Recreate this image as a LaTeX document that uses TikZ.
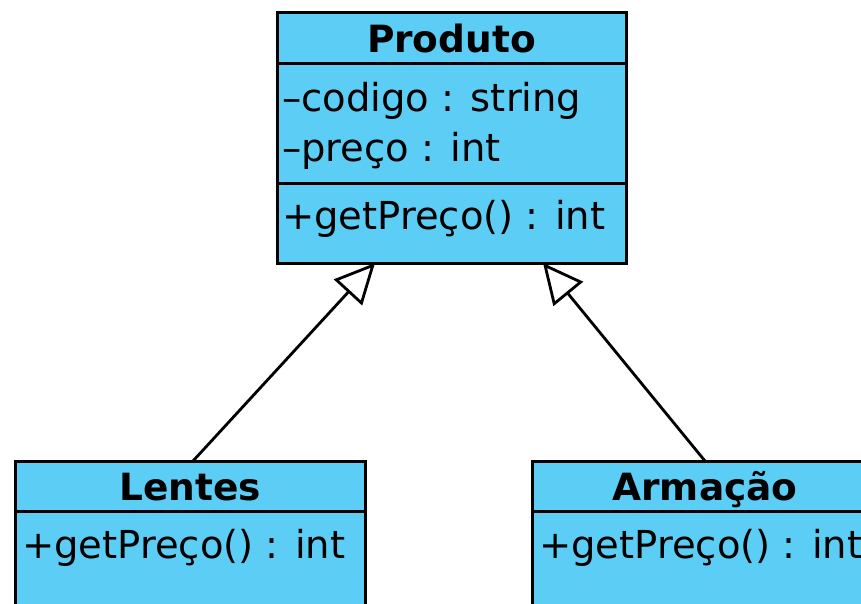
\documentclass[tikz,border=0pt]{standalone}
\usepackage{fontspec}
\setmainfont{DejaVu Sans}
\usetikzlibrary{arrows.meta}
\definecolor{classfill}{RGB}{92,206,246}
\tikzset{
  classbox/.style={draw=black, fill=classfill, line width=3pt},
  divider/.style={draw=black, line width=3pt},
  member/.style={anchor=base west, inner sep=0pt, font=\fontsize{38.5}{46}\selectfont},
  classname/.style={anchor=base, inner sep=0pt, font=\fontsize{37.5}{46}\selectfont\bfseries},
  inherit/.style={draw=black, line width=2.8pt,
    -{Triangle[open, length=40pt, width=38pt, line width=2.8pt, fill=white]}}
}
\begin{document}
\begin{tikzpicture}[x=1pt, y=-1pt]
  \useasboundingbox (0,0) rectangle (861,603);
  \clip (0,0) rectangle (861,603);

  % Produto
  \path[classbox] (277,12) rectangle (626,263);
  \draw[divider] (277,63) -- (626,63);
  \draw[divider] (277,183) -- (626,183);
  \node[classname] (produto) at (451.5,52) {Produto};
  \node[member] (pcod) at (282,111) {–codigo : string};
  \node[member] (ppre) at (282,161) {–preço : int};
  \node[member] (pget) at (282,229) {+getPreço() : int};
  \coordinate (ptipL) at (375,263);
  \coordinate (ptipR) at (543,263);

  % Lentes
  \path[classbox] (15,461) rectangle (365,640);
  \draw[divider] (15,511) -- (365,511);
  \node[classname] (lentes) at (190,500) {Lentes};
  \node[member] (lget) at (22,558) {+getPreço() : int};
  \coordinate (ltop) at (193,461);

  % Armação
  \path[classbox] (532,461) rectangle (880,640);
  \draw[divider] (532,511) -- (880,511);
  \node[classname] (armacao) at (705,500) {Armação};
  \node[member] (aget) at (539,558) {+getPreço() : int};
  \coordinate (atop) at (705,461);

  % generalisation arrows
  \draw[inherit] (ltop) -- (ptipL);
  \draw[inherit] (atop) -- (ptipR);
\end{tikzpicture}
\end{document}
